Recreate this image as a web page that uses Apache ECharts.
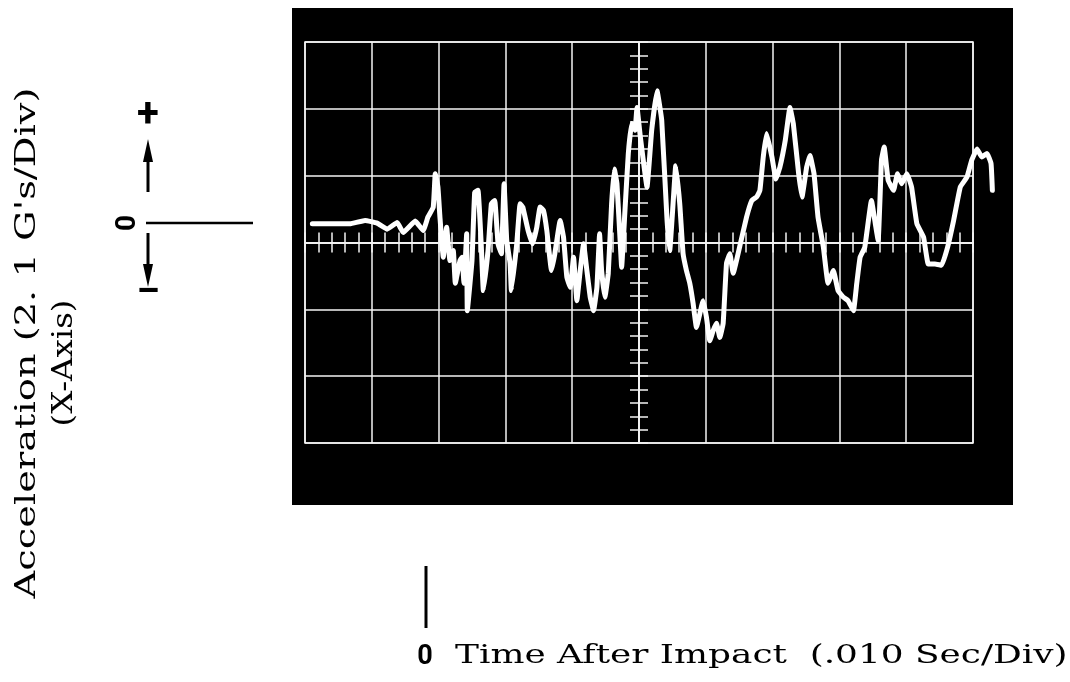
<!DOCTYPE html>
<html>
<head>
<meta charset="utf-8">
<title>Acceleration trace</title>
<script src="https://cdn.jsdelivr.net/npm/echarts@6/dist/echarts.min.js"></script>
<style>
  html, body { margin: 0; padding: 0; background: #fff; }
  #chart { width: 1070px; height: 682px; }
</style>
</head>
<body>
<div id="chart"></div>
<script>
// scope trace
// x: divisions from screen centre (.010 sec/div), y: divisions (2.1 G's/div)
const traceX = [
  -4.89, -4.33, -4.10, -3.92, -3.77, -3.62, -3.53, -3.35, -3.23, -3.16,
  -3.08, -3.05, -3.01, -2.98, -2.93, -2.88, -2.83, -2.78, -2.75, -2.68,
  -2.65, -2.62, -2.58, -2.57, -2.50, -2.46, -2.41, -2.36, -2.33, -2.26,
  -2.21, -2.16, -2.11, -2.06, -2.02, -1.98, -1.93, -1.91, -1.83, -1.78,
  -1.74, -1.66, -1.59, -1.53, -1.48, -1.43, -1.38, -1.31, -1.26, -1.18,
  -1.13, -1.08, -1.03, -0.98, -0.93, -0.88, -0.83, -0.78, -0.73, -0.68,
  -0.63, -0.59, -0.56, -0.51, -0.46, -0.41, -0.37, -0.33, -0.28, -0.26,
  -0.21, -0.16, -0.11, -0.06, -0.03, 0.02, 0.12, 0.19, 0.27, 0.34,
  0.42, 0.46, 0.51, 0.55, 0.61, 0.66, 0.71, 0.76, 0.81, 0.86,
  0.96, 1.01, 1.06, 1.11, 1.16, 1.21, 1.26, 1.31, 1.36, 1.41,
  1.51, 1.61, 1.69, 1.76, 1.81, 1.86, 1.91, 1.99, 2.05, 2.11,
  2.19, 2.26, 2.31, 2.39, 2.44, 2.51, 2.56, 2.62, 2.68, 2.76,
  2.83, 2.91, 2.98, 3.06, 3.13, 3.21, 3.26, 3.31, 3.38, 3.48,
  3.53, 3.58, 3.63, 3.67, 3.73, 3.81, 3.87, 3.93, 4.01, 4.08,
  4.16, 4.26, 4.33, 4.43, 4.53, 4.62, 4.71, 4.81, 4.91, 4.98,
  5.06, 5.13, 5.21, 5.27, 5.29
];
const traceY = [
  0.28, 0.28, 0.33, 0.29, 0.20, 0.30, 0.15, 0.32, 0.18, 0.38,
  0.53, 1.03, 0.83, 0.38, -0.22, 0.23, -0.27, -0.12, -0.61, -0.27,
  -0.22, -0.61, 0.13, -1.02, -0.27, 0.75, 0.78, -0.07, -0.72, -0.12,
  0.58, 0.63, -0.02, -0.17, 0.88, 0.03, -0.31, -0.72, -0.02, 0.58,
  0.53, 0.18, -0.02, 0.23, 0.53, 0.48, 0.18, -0.42, -0.17, 0.33,
  0.08, -0.52, -0.67, -0.22, -0.87, -0.42, -0.02, -0.42, -0.82, -1.02,
  -0.67, 0.13, -0.42, -0.82, -0.46, 0.58, 1.10, 0.88, -0.02, -0.37,
  0.48, 1.33, 1.78, 1.68, 2.02, 1.58, 0.83, 1.68, 2.27, 1.83,
  0.33, -0.12, 0.58, 1.15, 0.58, -0.17, -0.42, -0.61, -0.91, -1.27,
  -0.87, -1.12, -1.47, -1.32, -1.21, -1.42, -1.21, -0.31, -0.17, -0.46,
  -0.05, 0.38, 0.63, 0.68, 0.78, 1.28, 1.63, 1.28, 0.95, 1.13,
  1.53, 2.02, 1.78, 1.03, 0.68, 1.13, 1.30, 1.03, 0.38, -0.07,
  -0.61, -0.42, -0.72, -0.82, -0.87, -1.02, -0.61, -0.22, -0.07, 0.63,
  0.33, 0.03, 1.23, 1.43, 0.93, 0.78, 1.03, 0.88, 1.03, 0.83,
  0.28, 0.08, -0.32, -0.32, -0.34, -0.07, 0.33, 0.83, 0.98, 1.23,
  1.40, 1.28, 1.33, 1.18, 0.78
];

// graticule: 10 x 6 divisions, centre lines marked every 1/5 div
const xRange = [-5, 5];
const yRange = [-3, 3];
const minorStep = 0.2;
// the trace runs a little past the right edge of the graticule
const traceXMax = 5.4;

const chart = echarts.init(document.getElementById("chart"));

const lineColor = "#f4f4f4";
const serif = "DejaVu Serif";
const gLeft = 305, gTop = 42, gWidth = 668, gHeight = 401;

// centre-line tick axis (one per tick direction)
const centreX = (inside) => ({
  type: "value",
  gridIndex: 0,
  min: xRange[0],
  max: xRange[1],
  interval: minorStep,
  position: "bottom",
  axisLine: { show: true, onZero: true, onZeroAxisIndex: 0, lineStyle: { color: lineColor, width: 1.5 } },
  axisTick: { show: true, inside: inside, length: 10, lineStyle: { color: lineColor, width: 1.5 } },
  axisLabel: { show: false },
  splitLine: { show: false },
});
const centreY = (inside) => ({
  type: "value",
  gridIndex: 0,
  min: yRange[0],
  max: yRange[1],
  interval: minorStep,
  position: "left",
  axisLine: { show: true, onZero: true, onZeroAxisIndex: 0, lineStyle: { color: lineColor, width: 1.5 } },
  axisTick: { show: true, inside: inside, length: 9, lineStyle: { color: lineColor, width: 1.5 } },
  axisLabel: { show: false },
  splitLine: { show: false },
});

chart.setOption({
  animation: false,
  backgroundColor: "#fff",
  grid: [
    // graticule
    {
      left: gLeft, top: gTop, width: gWidth, height: gHeight,
      show: true, borderColor: lineColor, borderWidth: 1.5,
    },
    // trace, same scale but wider to the right
    {
      left: gLeft, top: gTop,
      width: gWidth * (traceXMax - xRange[0]) / (xRange[1] - xRange[0]),
      height: gHeight,
    },
  ],
  xAxis: [
    {
      type: "value",
      gridIndex: 0,
      min: xRange[0],
      max: xRange[1],
      interval: 1,
      axisLine: { show: false, onZero: false },
      axisTick: { show: false },
      axisLabel: { show: false },
      splitLine: { show: true, lineStyle: { color: lineColor, width: 1.5 } },
    },
    centreX(false),
    centreX(true),
    { type: "value", gridIndex: 1, min: xRange[0], max: traceXMax, show: false },
  ],
  yAxis: [
    {
      type: "value",
      gridIndex: 0,
      min: yRange[0],
      max: yRange[1],
      interval: 1,
      axisLine: { show: false, onZero: false },
      axisTick: { show: false },
      axisLabel: { show: false },
      splitLine: { show: true, lineStyle: { color: lineColor, width: 1.5 } },
    },
    centreY(false),
    centreY(true),
    { type: "value", gridIndex: 1, min: yRange[0], max: yRange[1], show: false },
  ],
  series: [
    {
      type: "line",
      xAxisIndex: 3,
      yAxisIndex: 3,
      data: traceX.map((x, i) => [x, traceY[i]]),
      showSymbol: false,
      clip: false,
      smooth: 0.1,
      lineStyle: { color: "#fff", width: 5, join: "round", cap: "round" },
      z: 5,
    },
  ],
  graphic: [
    // scope screen
    { type: "rect", z: -1, shape: { x: 292, y: 8, width: 721, height: 497 }, style: { fill: "#000" } },

    // vertical caption (wide typewriter face)
    {
      type: "text", x: 28, y: 343, rotation: Math.PI / 2, scaleX: 1.42,
      style: { text: "Acceleration (2. 1 G's/Div)", font: "27px " + serif, fill: "#000", align: "center", verticalAlign: "middle" },
    },
    {
      type: "text", x: 65, y: 363, rotation: Math.PI / 2, scaleX: 1.2,
      style: { text: "(X-Axis)", font: "27px " + serif, fill: "#000", align: "center", verticalAlign: "middle" },
    },

    // zero / direction marker on the left
    { type: "text", x: 148, y: 116, style: { text: "+", font: "bold 40px Roboto", fill: "#000", align: "center", verticalAlign: "middle" } },
    { type: "line", shape: { x1: 148, y1: 192, x2: 148, y2: 150 }, style: { stroke: "#000", lineWidth: 3 } },
    { type: "polygon", shape: { points: [[148, 139], [143, 162], [153, 162]] }, style: { fill: "#000" } },
    {
      type: "text", x: 128, y: 223, rotation: Math.PI / 2,
      style: { text: "0", font: "bold 28px Roboto", fill: "#000", align: "center", verticalAlign: "middle" },
    },
    { type: "line", shape: { x1: 146, y1: 223, x2: 253, y2: 223 }, style: { stroke: "#000", lineWidth: 2.5 } },
    { type: "line", shape: { x1: 148, y1: 233, x2: 148, y2: 275 }, style: { stroke: "#000", lineWidth: 3 } },
    { type: "polygon", shape: { points: [[148, 287], [143, 264], [153, 264]] }, style: { fill: "#000" } },
    { type: "text", x: 148, y: 294, style: { text: "–", font: "bold 36px Roboto", fill: "#000", align: "center", verticalAlign: "middle" } },

    // time zero marker and caption
    { type: "line", shape: { x1: 426, y1: 566, x2: 426, y2: 628 }, style: { stroke: "#000", lineWidth: 3 } },
    { type: "text", x: 425, y: 657, style: { text: "0", font: "bold 27px Roboto", fill: "#000", align: "center", verticalAlign: "middle" } },
    {
      type: "text", x: 455, y: 656, scaleX: 1.38,
      style: { text: "Time After Impact  (.010 Sec/Div)", font: "26px " + serif, fill: "#000", align: "left", verticalAlign: "middle" },
    },
  ],
});
</script>
</body>
</html>
